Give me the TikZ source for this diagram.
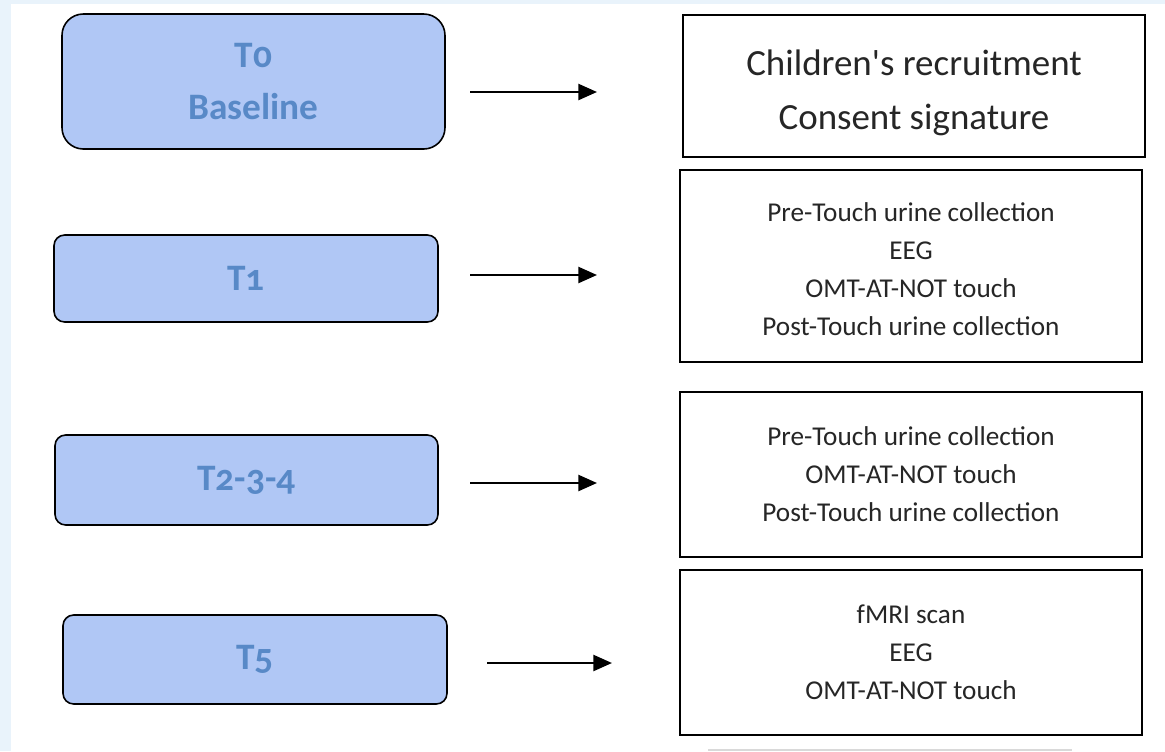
\documentclass[tikz,border=0pt]{standalone}
\usepackage{fontspec}
\setmainfont{Carlito}
\newfontfamily\phasefont{Carlito}[Numbers=OldStyle]
\usetikzlibrary{arrows.meta,positioning}
\definecolor{phasefill}{RGB}{176,199,245}
\definecolor{phasetext}{RGB}{88,137,199}
\definecolor{framebg}{RGB}{233,243,251}

\begin{document}
\begin{tikzpicture}[x=0.75pt,y=-0.75pt,
	phase/.style={draw,line width=1.2pt,fill=phasefill,text=phasetext,align=center,inner sep=0pt,
		font=\phasefont\bfseries\fontsize{28}{39}\selectfont},
	task/.style={draw,line width=1.6pt,fill=white,align=center,inner sep=0pt,text=black!85,
		font=\fontsize{20.4}{28.5}\selectfont},
	flow/.style={line width=1.8pt,-{Triangle[length=14pt,width=12pt]}}]
	\useasboundingbox (0,0) rectangle (1165,751);
	\fill[framebg] (0,0) rectangle (1165,751);
	\fill[white] (11,4) rectangle (1165,751);
	% phases
	\node[phase,rounded corners=16pt,minimum width=287.25pt,minimum height=101.25pt] (t0) at (253.5,81.5) {T0\\Baseline};
	\node[phase,rounded corners=8pt,minimum width=288pt,minimum height=65.25pt] (t1) at (246,278.5) {T1};
	\node[phase,rounded corners=8pt,minimum width=287.25pt,minimum height=67.5pt] (t2) at (246.5,480) {T2-3-4};
	\node[phase,rounded corners=8pt,minimum width=288pt,minimum height=66.75pt] (t5) at (255,659.5) {T5};
	% activities
	\node[task,minimum width=346.5pt,minimum height=106.5pt,font=\fontsize{27.7}{40.5}\selectfont] (b0) at (914,86) {\rule{0pt}{30pt}Children\textquotesingle s recruitment\\Consent signature};
	\node[task,minimum width=346.5pt,minimum height=144pt] (b1) at (911,266) {\rule{0pt}{19pt}Pre-Touch urine collection\\EEG\\OMT-AT-NOT touch\\Post-Touch urine collection};
	\node[task,minimum width=346.5pt,minimum height=123.75pt] (b2) at (911,474.5) {Pre-Touch urine collection\\OMT-AT-NOT touch\\Post-Touch urine collection};
	\node[task,minimum width=346.5pt,minimum height=123.75pt] (b5) at (911,652.5) {fMRI scan\\EEG\\OMT-AT-NOT touch};
	% arrows
	\coordinate (a0) at (470,92);   \coordinate (e0) at (597,92);
	\coordinate (a1) at (470,275);  \coordinate (e1) at (597,275);
	\coordinate (a2) at (470,483);  \coordinate (e2) at (597,483);
	\coordinate (a5) at (487,663);  \coordinate (e5) at (612,663);
	\draw[flow] (a0) -- (e0);
	\draw[flow] (a1) -- (e1);
	\draw[flow] (a2) -- (e2);
	\draw[flow] (a5) -- (e5);
	\draw[black!15,line width=1pt] (708,750) -- (1072,750);
\end{tikzpicture}
\end{document}
